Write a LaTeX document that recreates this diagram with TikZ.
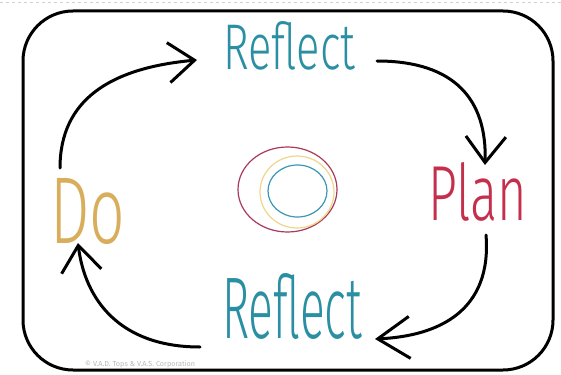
\documentclass[tikz,border=0pt]{standalone}
\usepackage{graphicx}
\usepackage{fontspec}
\setmainfont{Fira Sans}
\newfontfamily\handf{Fira Sans Light}
\usetikzlibrary{arrows.meta}
\definecolor{tealc}{HTML}{2A8FA3}
\definecolor{redc}{HTML}{C4304C}
\definecolor{goldc}{HTML}{D8AE5C}
\definecolor{ringred}{HTML}{A83A5A}
\definecolor{ringyel}{HTML}{EED68A}
\definecolor{ringteal}{HTML}{3A98B0}
\begin{document}
\begin{tikzpicture}[x=1pt,y=-1pt,
  cyc/.style={line width=3pt, line cap=round, -{Straight Barb[length=26pt,width=40pt,line width=3pt]}},
  cycwide/.style={line width=3pt, line cap=round, -{Straight Barb[length=32pt,width=42pt,line width=3pt]}},
  lbl/.style={inner sep=0pt, anchor=base west, font=\handf},
  ring/.style={line width=1.2pt}]
\useasboundingbox (0,0) rectangle (561,374);
\fill[white] (0,0) rectangle (561,374);
\draw[gray!35, dashed, line width=0.8pt] (0,2) -- (561,2);
\draw[line width=3pt, rounded corners=50pt] (23,11) rectangle (553,370);
% labels
\node[lbl, text=tealc] (rtop) at (223,70) {\resizebox{132pt}{48pt}{Reflect}};
\node[lbl, text=redc] (plan) at (428,220) {\resizebox{99pt}{58pt}{Plan}};
\node[lbl, text=tealc] (rbot) at (222,338) {\resizebox{140pt}{65pt}{Reflect}};
\node[lbl, text=goldc] (do) at (50,243) {\resizebox{75pt}{65pt}{Do}};
\node[inner sep=0pt, anchor=base west, text=gray!55] (copy) at (85,366)
  {\resizebox{110pt}{!}{\fontsize{5}{5}\selectfont © V.A.D. Tops \& V.A.S. Corporation}};
% rings
\draw[ring, ringred] (287.5,189.5) ellipse [x radius=49.5pt, y radius=42.5pt];
\draw[ring, ringyel] (297,192) ellipse [x radius=37pt, y radius=36pt];
\draw[ring, ringteal] (297.5,191) ellipse [x radius=29.5pt, y radius=26pt];
% arrows
\coordinate (a1s) at (60,168);  \coordinate (a1e) at (197,60);
\coordinate (a2s) at (377,61);  \coordinate (a2e) at (485,165);
\coordinate (a3s) at (486,235); \coordinate (a3e) at (375,339);
\coordinate (a4s) at (200,347); \coordinate (a4e) at (78,243);
\draw[cyc] (a1s) .. controls (60,100) and (110,68) .. (a1e);
\draw[cyc] (a2s) .. controls (455,61) and (487,100) .. (a2e);
\draw[cycwide] (a3s) .. controls (492,310) and (440,336) .. (a3e);
\draw[cyc] (a4s) .. controls (120,347) and (85,300) .. (a4e);
\end{tikzpicture}
\end{document}
